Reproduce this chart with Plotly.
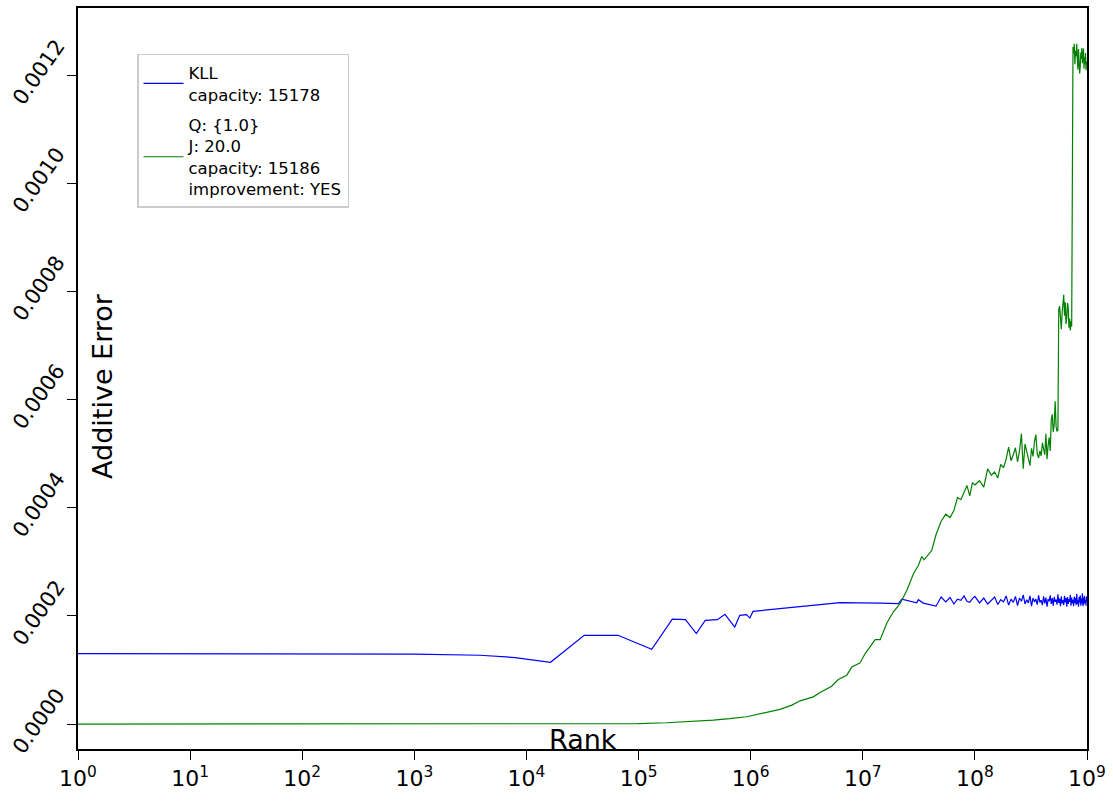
import plotly.graph_objects as go

# ---- KLL sketch: additive error per rank ----
kll_rank = [1, 100, 1000, 3855, 7910, 16384, 32768, 65536, 131072, 200000,
            262144, 327680, 393216, 505000, 589824, 720896, 800000, 917504,
            983040, 1048576, 2750000, 6270000, 14300000, 20800000, 22300000,
            30300000, 31300000, 34700000]
kll_err = [1.304e-4, 1.302e-4, 1.295e-4, 1.2725e-4, 1.230e-4, 1.143e-4, 1.641e-4,
           1.641e-4, 1.383e-4, 1.942e-4, 1.931e-4, 1.673e-4, 1.918e-4, 1.931e-4,
           2.029e-4, 1.794e-4, 2.010e-4, 2.023e-4, 1.960e-4, 2.084e-4, 2.176e-4,
           2.244e-4, 2.237e-4, 2.226e-4, 2.311e-4, 2.244e-4, 2.300e-4, 2.237e-4]

# dense tail of ranks (in millions), shared by both sketches
tail_rank_m = [45, 50, 55, 60, 65, 70, 75, 80, 85, 90, 95,
               100, 110, 120, 130, 140, 150, 160, 170, 180, 190,
               200, 210, 220, 230, 240, 250, 260, 270, 280, 290,
               300, 310, 320, 330, 340, 350, 360, 370, 380, 390,
               400, 410, 420, 430, 440, 450, 460, 470, 480, 490,
               500, 510, 520, 530, 540, 550, 560, 570, 580, 590,
               600, 610, 620, 630, 640, 650, 660, 670, 680, 690,
               700, 710, 720, 730, 740, 750, 760, 770, 780, 790,
               800, 810, 820, 830, 840, 850, 860, 870, 880, 890,
               900, 910, 920, 930, 940, 950, 960, 970, 980, 990,
               1000]

# KLL error on the tail (units of 1e-4)
kll_tail_e4 = [2.18, 2.35, 2.26, 2.34, 2.22, 2.31, 2.29, 2.37, 2.27, 2.25, 2.32,
               2.36, 2.24, 2.33, 2.22, 2.29, 2.35, 2.21, 2.30, 2.26, 2.37,
               2.20, 2.31, 2.25, 2.36, 2.19, 2.33, 2.27, 2.39, 2.22, 2.30,
               2.24, 2.37, 2.18, 2.33, 2.26, 2.31, 2.21, 2.38, 2.25, 2.29,
               2.20, 2.36, 2.23, 2.34, 2.17, 2.31, 2.27, 2.38, 2.22, 2.33,
               2.19, 2.35, 2.26, 2.30, 2.21, 2.40, 2.24, 2.32, 2.18, 2.36,
               2.23, 2.29, 2.20, 2.37, 2.25, 2.33, 2.17, 2.35, 2.22, 2.31,
               2.26, 2.39, 2.19, 2.34, 2.23, 2.30, 2.18, 2.36, 2.24, 2.33,
               2.20, 2.41, 2.22, 2.29, 2.17, 2.35, 2.25, 2.38, 2.19, 2.32,
               2.23, 2.42, 2.18, 2.34, 2.21, 2.37, 2.24, 2.30, 2.19, 2.36,
               2.27]

# ---- improved sketch (Q {1.0}, J 20.0) ----
imp_rank = [1, 1000, 10000, 100000, 178000, 300000, 465000, 650000, 920000,
            1830000, 2330000, 2760000, 3620000, 4160000, 5280000, 6050000,
            7200000, 7980000, 9470000, 10500000, 12000000, 12900000, 14300000,
            16400000, 18700000, 21500000, 24700000, 28300000, 31300000,
            33600000, 35200000, 41200000]
imp_err = [0.0, 0.0, 1e-7, 8e-7, 2.4e-6, 4.6e-6, 7.4e-6, 1.0e-5, 1.35e-5,
           2.71e-5, 3.50e-5, 4.30e-5, 5.03e-5, 5.84e-5, 7.01e-5, 8.24e-5,
           9.04e-5, 1.057e-4, 1.131e-4, 1.304e-4, 1.457e-4, 1.562e-4, 1.562e-4,
           1.868e-4, 2.071e-4, 2.226e-4, 2.471e-4, 2.779e-4, 2.932e-4,
           3.098e-4, 3.037e-4, 3.209e-4]

imp_tail_e4 = [3.50, 3.75, 3.88, 3.82, 3.95, 4.19, 4.15, 4.30, 4.41, 4.22, 4.46,
               4.42, 4.50, 4.38, 4.72, 4.60, 4.66, 4.55, 4.80, 4.74, 4.90,
               5.12, 4.87, 4.98, 5.11, 4.85, 5.05, 5.37, 4.72, 5.18, 5.02,
               4.86, 4.78, 5.10, 4.95, 5.22, 5.35, 5.00, 4.92, 5.05, 4.96,
               5.20, 5.11, 4.98, 5.37, 4.90, 5.15, 5.30, 5.05, 5.62, 5.73,
               5.40, 5.55, 5.97, 5.50, 5.42, 5.43, 7.67, 7.73, 7.45, 7.30,
               7.60, 7.72, 7.94, 7.55, 7.80, 7.40, 7.51, 7.79, 7.70, 7.33,
               7.50, 7.28, 7.45, 7.35, 12.31, 12.52, 12.40, 12.58, 12.20, 12.45,
               12.35, 12.58, 12.30, 12.10, 12.48, 12.25, 12.03, 12.15, 12.42, 12.30,
               12.50, 12.22, 12.38, 12.49, 12.12, 12.33, 12.20, 12.41, 12.09, 12.25,
               12.18]

y_ticks = [0.0, 0.0002, 0.0004, 0.0006, 0.0008, 0.0010, 0.0012]
y_tick_text = ["0.0000", "0.0002", "0.0004", "0.0006", "0.0008", "0.0010", "0.0012"]
x_exponents = [0, 1, 2, 3, 4, 5, 6, 7, 8, 9]

kll_legend = "KLL<br>capacity: 15178"
imp_legend = "Q: {1.0}<br>J: 20.0<br>capacity: 15186<br>improvement: YES"

tail_rank = [r * 1e6 for r in tail_rank_m]
kll_x = kll_rank + tail_rank
kll_y = kll_err + [v * 1e-4 for v in kll_tail_e4]
imp_x = imp_rank + tail_rank
imp_y = imp_err + [v * 1e-4 for v in imp_tail_e4]

FONT = "DejaVu Sans"

fig = go.Figure()
fig.add_trace(go.Scatter(x=kll_x, y=kll_y, mode="lines", name=kll_legend,
                         legendgroup="kll",
                         line=dict(color="#0000ff", width=1.2)))
fig.add_trace(go.Scatter(x=imp_x, y=imp_y, mode="lines", name=imp_legend,
                         legendgroup="imp",
                         line=dict(color="#008000", width=1.2)))

axis_common = dict(showline=True, linecolor="black", linewidth=1.6, mirror=True,
                   ticks="outside", ticklen=9, tickwidth=1.4, tickcolor="black",
                   showgrid=False, zeroline=False)

fig.update_xaxes(type="log", range=[0, 9],
                 tickvals=[10 ** e for e in x_exponents],
                 ticktext=[f"10<sup>{e}</sup>" for e in x_exponents],
                 tickfont=dict(family=FONT, size=22, color="black"),
                 **axis_common)
fig.update_yaxes(range=[-0.0000461, 0.0013241],
                 tickvals=y_ticks, ticktext=y_tick_text, tickangle=-55,
                 ticklabelshift=-32, ticklabelstandoff=6,
                 tickfont=dict(family=FONT, size=21, color="black"),
                 **axis_common)

fig.add_annotation(text="Additive Error", xref="paper", yref="paper",
                   x=0.0248, y=0.49, textangle=-90, showarrow=False,
                   xanchor="center", yanchor="middle",
                   font=dict(family=FONT, size=27, color="black"))
fig.add_annotation(text="Rank", xref="paper", yref="paper",
                   x=0.5, y=0.013, showarrow=False,
                   xanchor="center", yanchor="middle",
                   font=dict(family=FONT, size=27, color="black"))

fig.update_layout(
    width=1113, height=805,
    margin=dict(l=78, r=26, t=6, b=56),
    paper_bgcolor="white", plot_bgcolor="white",
    font=dict(family=FONT, color="black"),
    legend=dict(x=0.0585, y=0.938, xanchor="left", yanchor="top",
                bgcolor="white", bordercolor="#cccccc", borderwidth=1.5,
                itemwidth=40, tracegroupgap=6,
                font=dict(family=FONT, size=16.5, color="black")),
)

fig.write_html("out.html")
